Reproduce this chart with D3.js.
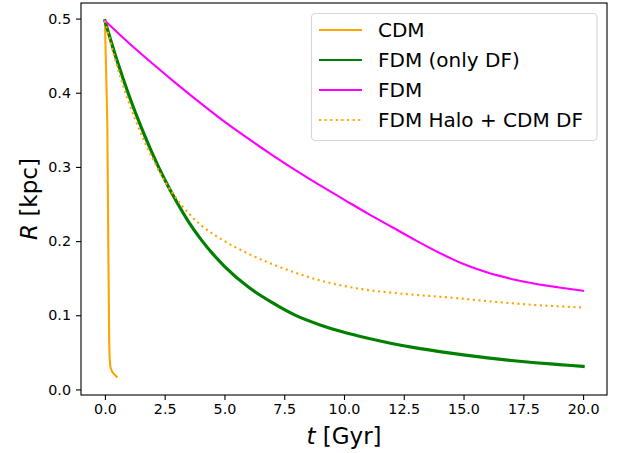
<!DOCTYPE html>
<html>
<head>
<meta charset="utf-8">
<script src="https://cdn.jsdelivr.net/npm/d3@7"></script>
<style>
  html, body { margin: 0; padding: 0; background: #ffffff; }
  #chart svg { display: block; font-family: 'DejaVu Sans', sans-serif; }
  .tick text { font-size: 14.3px; fill: #000; }
  .tick line { stroke: #000; stroke-width: 1.1px; }
</style>
</head>
<body>
<div id="chart"></div>
<script>
/* ── data ────────────────────────────────────────────────── */
const tCDM = [0, 0.05, 0.1, 0.14, 0.18, 0.2, 0.23, 0.3, 0.4, 0.49];
const rCDM = [0.497, 0.43, 0.36, 0.2, 0.064, 0.041, 0.03, 0.024, 0.02, 0.017];

const tOnlyDF = [0, 0.5, 1, 1.5, 2, 2.5, 3, 3.5, 4, 5, 6, 7, 8, 9, 10, 11, 12, 13, 14, 15, 16, 17, 18, 19, 20];
const rOnlyDF = [0.497, 0.444, 0.397, 0.355, 0.317, 0.283, 0.253, 0.226, 0.203, 0.166, 0.138, 0.117, 0.0995, 0.087, 0.077, 0.069, 0.062, 0.056, 0.051, 0.0465, 0.0425, 0.039, 0.036, 0.0335, 0.031];

const tFDM = [0, 1, 2, 3, 4, 5, 6, 7, 8, 9, 10, 11, 12, 13, 14, 15, 16, 17, 18, 19, 20];
const rFDM = [0.497, 0.467, 0.439, 0.412, 0.386, 0.361, 0.338, 0.316, 0.295, 0.275, 0.256, 0.237, 0.219, 0.201, 0.184, 0.169, 0.1575, 0.149, 0.1425, 0.1375, 0.133];

const tHalo = [0, 0.5, 1, 1.5, 2, 2.5, 3, 3.5, 4, 5, 6, 7, 8, 9, 10, 11, 12, 13, 14, 15, 16, 17, 18, 19, 20];
const rHalo = [0.497, 0.437, 0.387, 0.3455, 0.311, 0.281, 0.257, 0.2375, 0.222, 0.200, 0.183, 0.169, 0.157, 0.147, 0.1395, 0.134, 0.1305, 0.1275, 0.125, 0.1222, 0.119, 0.1163, 0.1138, 0.112, 0.1105];

const xTicks = [0, 2.5, 5, 7.5, 10, 12.5, 15, 17.5, 20];
const yTicks = [0, 0.1, 0.2, 0.3, 0.4, 0.5];

const seriesNames = ["CDM", "FDM (only DF)", "FDM", "FDM Halo + CDM DF"];

/* ── layout ──────────────────────────────────────────────── */
const W = 622, H = 453;
const plot = { left: 81, right: 607, top: 3, bottom: 395 };

const svg = d3.select("#chart").append("svg")
  .attr("width", W).attr("height", H);

const x = d3.scaleLinear().domain([-1, 21]).range([plot.left, plot.right]);
const y = d3.scaleLinear().domain([-0.0075, 0.521]).range([plot.bottom, plot.top]);

/* ── series ──────────────────────────────────────────────── */
const series = [
  { name: seriesNames[0], t: tCDM,    r: rCDM,    color: "#ffa500", width: 2.1, dash: null,      curve: d3.curveLinear },
  { name: seriesNames[1], t: tOnlyDF, r: rOnlyDF, color: "#008000", width: 3.2, dash: null,      curve: d3.curveMonotoneX },
  { name: seriesNames[2], t: tFDM,    r: rFDM,    color: "#ff00ff", width: 2.1, dash: null,      curve: d3.curveMonotoneX },
  { name: seriesNames[3], t: tHalo,   r: rHalo,   color: "#ffa500", width: 2.1, dash: "2.1,3.5", curve: d3.curveMonotoneX }
];

const linesG = svg.append("g");
series.forEach(s => {
  const pts = s.t.map((t, i) => [t, s.r[i]]);
  const line = d3.line().x(d => x(d[0])).y(d => y(d[1])).curve(s.curve);
  linesG.append("path")
    .datum(pts)
    .attr("fill", "none")
    .attr("stroke", s.color)
    .attr("stroke-width", s.width)
    .attr("stroke-dasharray", s.dash)
    .attr("stroke-linejoin", "round")
    .attr("stroke-linecap", s.dash ? "butt" : "square")
    .attr("d", line);
});

/* ── axes ────────────────────────────────────────────────── */
const xAxis = svg.append("g")
  .attr("transform", `translate(0,${plot.bottom})`)
  .call(d3.axisBottom(x).tickValues(xTicks).tickFormat(d3.format(".1f")).tickSizeOuter(0).tickSize(5).tickPadding(4));
const yAxis = svg.append("g")
  .attr("transform", `translate(${plot.left},0)`)
  .call(d3.axisLeft(y).tickValues(yTicks).tickFormat(d3.format(".1f")).tickSizeOuter(0).tickSize(5).tickPadding(5));
[xAxis, yAxis].forEach(a => {
  a.select(".domain").remove();
  a.selectAll("text").attr("font-family", "'DejaVu Sans', sans-serif");
});

// frame
svg.append("rect")
  .attr("x", plot.left).attr("y", plot.top)
  .attr("width", plot.right - plot.left).attr("height", plot.bottom - plot.top)
  .attr("fill", "none").attr("stroke", "#000").attr("stroke-width", 1.1);

/* ── axis labels ─────────────────────────────────────────── */
const xl = svg.append("text")
  .attr("x", (plot.left + plot.right) / 2).attr("y", 444)
  .attr("text-anchor", "middle")
  .attr("font-size", 23);
xl.append("tspan").attr("font-style", "italic").text("t");
xl.append("tspan").text(" [Gyr]");

const yl = svg.append("text")
  .attr("transform", `translate(37,${(plot.top + plot.bottom) / 2}) rotate(-90)`)
  .attr("text-anchor", "middle")
  .attr("font-size", 23);
yl.append("tspan").attr("font-style", "italic").text("R");
yl.append("tspan").text(" [kpc]");

/* ── legend ──────────────────────────────────────────────── */
const legend = svg.append("g");
legend.append("rect")
  .attr("x", 311.5).attr("y", 13.5).attr("width", 285.5).attr("height", 127)
  .attr("rx", 4).attr("ry", 4)
  .attr("fill", "#ffffff").attr("fill-opacity", 0.8)
  .attr("stroke", "#d6d6d6").attr("stroke-width", 1.1);

series.forEach((s, i) => {
  const cy = 30 + i * 30;
  legend.append("line")
    .attr("x1", 319).attr("x2", 362).attr("y1", cy).attr("y2", cy)
    .attr("stroke", s.color).attr("stroke-width", 2.1)
    .attr("stroke-dasharray", s.dash);
  legend.append("text")
    .attr("x", 378).attr("y", cy + 7)
    .attr("font-size", 20)
    .attr("fill", "#000")
    .text(s.name);
});
</script>
</body>
</html>
